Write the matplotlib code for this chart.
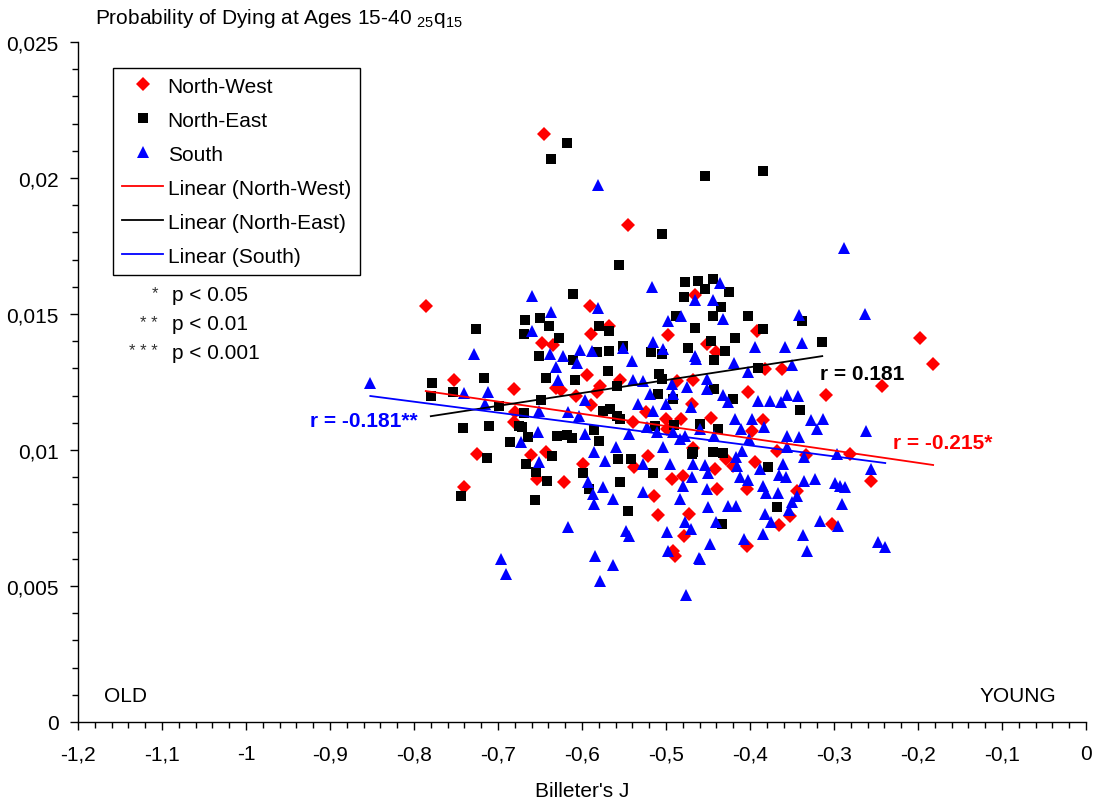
import numpy as np
import matplotlib
matplotlib.use("Agg")
import matplotlib.pyplot as plt
from matplotlib.lines import Line2D
from matplotlib.ticker import MultipleLocator, FuncFormatter

plt.rcParams['font.family'] = ['Liberation Sans', 'DejaVu Sans']
plt.rcParams['mathtext.fontset'] = 'custom'
plt.rcParams['mathtext.rm'] = 'Liberation Sans'

# ---------------- data (Billeter's J, 25q15) ----------------
nw_x = [-0.786, -0.645, -0.545, -0.198, -0.182, -0.243, -0.310, -0.281, -0.256, -0.302,
        -0.404, -0.752, -0.681, -0.680, -0.681, -0.725, -0.740, -0.661, -0.648, -0.635,
        -0.590, -0.589, -0.568, -0.594, -0.631, -0.625, -0.579, -0.555, -0.607, -0.589,
        -0.465, -0.498, -0.451, -0.440, -0.392, -0.382, -0.362, -0.468, -0.402, -0.469,
        -0.446, -0.398, -0.368, -0.333, -0.468, -0.442, -0.404, -0.344, -0.473, -0.352,
        -0.365, -0.439, -0.420, -0.654, -0.621, -0.514, -0.510, -0.479, -0.492, -0.489,
        -0.582, -0.539, -0.500, -0.482, -0.499, -0.487, -0.524, -0.643, -0.599, -0.521,
        -0.538, -0.493, -0.429, -0.385, -0.480, -0.394]
nw_y = [0.01529, 0.02162, 0.01827, 0.01412, 0.01316, 0.01235, 0.01202, 0.00985, 0.00886, 0.00728,
        0.00647, 0.01257, 0.01224, 0.01140, 0.01103, 0.00985, 0.00864, 0.00982, 0.01393, 0.01386,
        0.01529, 0.01426, 0.01456, 0.01276, 0.01228, 0.01221, 0.01235, 0.01257, 0.01199, 0.01165,
        0.01570, 0.01423, 0.01390, 0.01360, 0.01438, 0.01298, 0.01298, 0.01257, 0.01213, 0.01169,
        0.01118, 0.01070, 0.00996, 0.00982, 0.01007, 0.00930, 0.00857, 0.00849, 0.00765, 0.00757,
        0.00724, 0.00857, 0.00941, 0.00893, 0.00882, 0.00831, 0.00761, 0.00684, 0.00629, 0.00610,
        0.01213, 0.01103, 0.01114, 0.01114, 0.01077, 0.01254, 0.01140, 0.00993, 0.00949, 0.00978,
        0.00938, 0.00893, 0.00967, 0.01110, 0.00904, 0.00956]

ne_x = [-0.618, -0.637, -0.454, -0.385, -0.505, -0.556, -0.611, -0.668, -0.650, -0.639,
        -0.726, -0.669, -0.627, -0.651, -0.611, -0.643, -0.608, -0.779, -0.754, -0.717,
        -0.780, -0.699, -0.649, -0.669, -0.742, -0.711, -0.675, -0.686, -0.664, -0.630,
        -0.618, -0.586, -0.713, -0.667, -0.744, -0.656, -0.477, -0.462, -0.444, -0.454,
        -0.425, -0.479, -0.435, -0.488, -0.444, -0.402, -0.338, -0.580, -0.568, -0.465,
        -0.385, -0.418, -0.551, -0.446, -0.568, -0.518, -0.505, -0.474, -0.430, -0.443,
        -0.582, -0.314, -0.569, -0.508, -0.505, -0.558, -0.510, -0.492, -0.575, -0.567,
        -0.558, -0.555, -0.671, -0.513, -0.490, -0.612, -0.580, -0.636, -0.542, -0.557,
        -0.655, -0.642, -0.599, -0.555, -0.515, -0.592, -0.545, -0.468, -0.390, -0.443,
        -0.420, -0.340, -0.460, -0.438, -0.469, -0.444, -0.432, -0.379, -0.368, -0.433]
ne_y = [0.02129, 0.02070, 0.02007, 0.02026, 0.01794, 0.01680, 0.01574, 0.01478, 0.01485, 0.01456,
        0.01445, 0.01426, 0.01412, 0.01346, 0.01331, 0.01265, 0.01257, 0.01246, 0.01213, 0.01265,
        0.01199, 0.01162, 0.01184, 0.01136, 0.01081, 0.01088, 0.01088, 0.01029, 0.01048, 0.01051,
        0.01055, 0.01074, 0.00971, 0.00949, 0.00831, 0.00816, 0.01618, 0.01621, 0.01629, 0.01592,
        0.01581, 0.01563, 0.01526, 0.01493, 0.01493, 0.01493, 0.01474, 0.01456, 0.01438, 0.01449,
        0.01445, 0.01412, 0.01382, 0.01401, 0.01364, 0.01360, 0.01353, 0.01375, 0.01364, 0.01331,
        0.01360, 0.01397, 0.01290, 0.01279, 0.01261, 0.01235, 0.01206, 0.01188, 0.01143, 0.01151,
        0.01125, 0.01114, 0.01085, 0.01088, 0.01092, 0.01044, 0.01033, 0.00978, 0.00967, 0.00967,
        0.00919, 0.00886, 0.00915, 0.00882, 0.00915, 0.00857, 0.00776, 0.00993, 0.01301, 0.01224,
        0.01188, 0.01147, 0.01096, 0.01077, 0.00985, 0.00993, 0.00989, 0.00938, 0.00790, 0.00728]

s_x = [-0.852, -0.729, -0.660, -0.637, -0.660, -0.638, -0.623, -0.602, -0.588, -0.631,
       -0.606, -0.629, -0.740, -0.712, -0.715, -0.596, -0.651, -0.617, -0.604, -0.652,
       -0.596, -0.673, -0.651, -0.581, -0.288, -0.517, -0.436, -0.465, -0.444, -0.482,
       -0.432, -0.498, -0.342, -0.581, -0.515, -0.551, -0.394, -0.358, -0.338, -0.504,
       -0.465, -0.540, -0.419, -0.263, -0.262, -0.256, -0.248, -0.239, -0.295, -0.317,
       -0.337, -0.332, -0.290, -0.299, -0.293, -0.287, -0.323, -0.336, -0.344, -0.350,
       -0.354, -0.365, -0.367, -0.381, -0.382, -0.385, -0.375, -0.385, -0.407, -0.448,
       -0.460, -0.440, -0.426, -0.417, -0.451, -0.450, -0.412, -0.402, -0.388, -0.696,
       -0.690, -0.617, -0.585, -0.563, -0.579, -0.548, -0.544, -0.499, -0.498, -0.477,
       -0.470, -0.461, -0.476, -0.527, -0.587, -0.575, -0.563, -0.480, -0.593, -0.464,
       -0.402, -0.350, -0.451, -0.451, -0.475, -0.432, -0.426, -0.390, -0.376, -0.363,
       -0.356, -0.343, -0.470, -0.418, -0.398, -0.383, -0.411, -0.327, -0.313, -0.320,
       -0.460, -0.477, -0.443, -0.401, -0.356, -0.342, -0.356, -0.336, -0.296, -0.410,
       -0.417, -0.361, -0.357, -0.468, -0.454, -0.450, -0.415, -0.483, -0.539, -0.527,
       -0.493, -0.519, -0.492, -0.533, -0.515, -0.500, -0.544, -0.511, -0.492, -0.523,
       -0.586, -0.560, -0.573, -0.527, -0.495, -0.469, -0.586, -0.504, -0.483]
s_y = [0.01246, 0.01353, 0.01566, 0.01507, 0.01438, 0.01353, 0.01346, 0.01368, 0.01364, 0.01305,
       0.01320, 0.01257, 0.01210, 0.01213, 0.01169, 0.01184, 0.01143, 0.01140, 0.01125, 0.01066,
       0.01059, 0.01029, 0.00956, 0.01974, 0.01743, 0.01599, 0.01614, 0.01551, 0.01551, 0.01493,
       0.01482, 0.01474, 0.01496, 0.01522, 0.01397, 0.01375, 0.01379, 0.01379, 0.01393, 0.01371,
       0.01346, 0.01327, 0.01320, 0.01500, 0.01070, 0.00930, 0.00662, 0.00643, 0.00721, 0.00739,
       0.00688, 0.00629, 0.00801, 0.00879, 0.00868, 0.00864, 0.00893, 0.00886, 0.00831, 0.00809,
       0.00779, 0.00908, 0.00842, 0.00842, 0.00765, 0.00868, 0.00735, 0.00691, 0.00673, 0.00654,
       0.00599, 0.00735, 0.00794, 0.00794, 0.00857, 0.00790, 0.00901, 0.00890, 0.00930, 0.00599,
       0.00544, 0.00717, 0.00610, 0.00577, 0.00518, 0.00702, 0.00684, 0.00699, 0.00629, 0.00735,
       0.00710, 0.00603, 0.00467, 0.00846, 0.00838, 0.00864, 0.00820, 0.00868, 0.00882, 0.01335,
       0.01287, 0.01313, 0.01261, 0.01224, 0.01232, 0.01202, 0.01176, 0.01180, 0.01180, 0.01176,
       0.01202, 0.01199, 0.01158, 0.01114, 0.01114, 0.01085, 0.01077, 0.01110, 0.01114, 0.01077,
       0.01077, 0.01051, 0.01051, 0.01040, 0.01051, 0.01048, 0.01011, 0.00974, 0.00985, 0.00996,
       0.00974, 0.00949, 0.00901, 0.00949, 0.00945, 0.00915, 0.00941, 0.00820, 0.01257, 0.01254,
       0.01243, 0.01206, 0.01206, 0.01169, 0.01143, 0.01169, 0.01059, 0.01066, 0.01066, 0.01085,
       0.00993, 0.01011, 0.00960, 0.00949, 0.00949, 0.00901, 0.00801, 0.01011, 0.01040]

# linear trend lines (slope, intercept)
trend_slope = {'nw': -0.00450, 'ne': 0.00474, 's': -0.00402}
trend_icpt = {'nw': 0.00863, 'ne': 0.01494, 's': 0.00856}

x_ticks = [-1.2, -1.1, -1.0, -0.9, -0.8, -0.7, -0.6, -0.5, -0.4, -0.3, -0.2, -0.1, 0.0]
y_ticks = [0, 0.005, 0.01, 0.015, 0.02, 0.025]

# ---------------- figure ----------------
fig = plt.figure(figsize=(11.0, 8.03), dpi=100)
ax = fig.add_axes([78/1100, 1-723/803, 1008/1100, 680/803])

FS = 15
MS_D, MS_S, MS_T = 7.2, 7, 9
ax.plot(nw_x, nw_y, linestyle='None', marker='D', markersize=MS_D, color='#ff0000',
        markeredgewidth=0, zorder=3)
ax.plot(ne_x, ne_y, linestyle='None', marker='s', markersize=MS_S, color='#000000',
        markeredgewidth=0, zorder=3)
ax.plot(s_x, s_y, linestyle='None', marker='^', markersize=MS_T, color='#0000ff',
        markeredgewidth=0, zorder=3)

for key, xs, col in (('nw', nw_x, '#ff0000'), ('ne', ne_x, '#000000'), ('s', s_x, '#0000ff')):
    xr = np.array([min(xs), max(xs)])
    ax.plot(xr, trend_slope[key]*xr + trend_icpt[key], color=col, linewidth=1.3, zorder=4)

ax.set_xlim(-1.2, 0)
ax.set_ylim(0, 0.025)
ax.set_xticks(x_ticks)
ax.set_yticks(y_ticks)
ax.xaxis.set_minor_locator(MultipleLocator(0.02))
ax.yaxis.set_minor_locator(MultipleLocator(0.001))

def fmt(v, pos):
    v = round(v, 4)
    if abs(v) < 1e-9:
        return '0'
    return ('%g' % v).replace('.', ',')

ax.xaxis.set_major_formatter(FuncFormatter(fmt))
ax.yaxis.set_major_formatter(FuncFormatter(fmt))
ax.tick_params(axis='both', which='major', direction='out', length=6, width=1,
               labelsize=FS, colors='black')
ax.tick_params(axis='both', which='minor', direction='out', length=4, width=1)
ax.tick_params(axis='y', pad=8)
ax.tick_params(axis='x', pad=10)
for side in ('top', 'right'):
    ax.spines[side].set_visible(False)
for side in ('left', 'bottom'):
    ax.spines[side].set_linewidth(1)

ax.set_xlabel("Billeter's J", fontsize=FS, labelpad=13)

# title with subscripts
fig.text(95/1100, 1-18/803, r"Probability of Dying at Ages 15-40 $\mathregular{_{25}q_{15}}$",
         fontsize=FS, ha='left', va='center')

# legend
handles = [
    Line2D([], [], linestyle='None', marker='D', markersize=MS_D, color='#ff0000', markeredgewidth=0),
    Line2D([], [], linestyle='None', marker='s', markersize=MS_S, color='#000000', markeredgewidth=0),
    Line2D([], [], linestyle='None', marker='^', markersize=MS_T, color='#0000ff', markeredgewidth=0),
    Line2D([], [], color='#ff0000', linewidth=1.3),
    Line2D([], [], color='#000000', linewidth=1.3),
    Line2D([], [], color='#0000ff', linewidth=1.3),
]
labels = ['North-West', 'North-East', 'South', 'Linear (North-West)',
          'Linear (North-East)', 'Linear (South)']
leg = ax.legend(handles, labels, loc='upper left',
                bbox_to_anchor=((113-78)/1008, (723-69)/680), bbox_transform=ax.transAxes,
                fontsize=FS, frameon=True, fancybox=False, borderaxespad=0,
                handlelength=2.0, handletextpad=0.2, labelspacing=0.72,
                borderpad=0.42, numpoints=1)
leg.get_frame().set_edgecolor('black')
leg.get_frame().set_linewidth(1)
leg.get_frame().set_alpha(1)

# significance key
sig_stars = ['*', '**', '***']
sig_text = ['p < 0.05', 'p < 0.01', 'p < 0.001']
sig_py = [296, 325, 354]
for st, tx, py in zip(sig_stars, sig_text, sig_py):
    fig.text(158/1100, 1-(py-2)/803, ' '.join(st), fontsize=12, ha='right', va='center',
             color='#333333')
    fig.text(172/1100, 1-py/803, tx, fontsize=FS, ha='left', va='center')

# correlation labels
ax.text(-0.924, 0.01107, 'r = -0.181**', color='#0000ff', fontsize=15, fontweight='bold',
        ha='left', va='center')
ax.text(-0.317, 0.01283, 'r = 0.181', color='#000000', fontsize=15, fontweight='bold',
        ha='left', va='center')
ax.text(-0.230, 0.01026, 'r = -0.215*', color='#ff0000', fontsize=15, fontweight='bold',
        ha='left', va='center')

# OLD / YOUNG
ax.text(-1.169, 0.00096, 'OLD', fontsize=FS, ha='left', va='center')
ax.text(-0.035, 0.00096, 'YOUNG', fontsize=FS, ha='right', va='center')

fig.savefig('out.png', dpi=100)
